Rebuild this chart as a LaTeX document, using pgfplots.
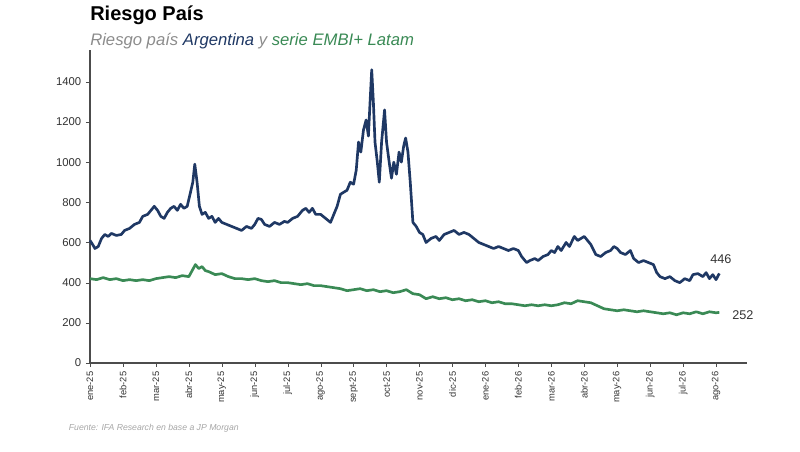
\documentclass[border=0pt]{standalone}
\usepackage{pgfplots}
\pgfplotsset{compat=1.18}
\usepackage{fontspec}
\setmainfont{Liberation Sans}
\definecolor{arg}{HTML}{1F3864}
\definecolor{emb}{HTML}{3A8A55}
\begin{document}
\begin{tikzpicture}
\useasboundingbox (-67.5pt,-66.75pt) rectangle (532.5pt,272.25pt);
\begin{axis}[scale only axis, width=493pt, height=235pt,
  xmin=0, xmax=19.95, ymin=0, ymax=1560,
  axis x line=bottom, axis y line=left, axis line style={-, black!70, line width=0.8pt},
  ytick={0,200,...,1400}, xtick={0,...,19},
  xticklabels={ene-25,feb-25,mar-25,abr-25,may-25,jun-25,jul-25,ago-25,sept-25,oct-25,nov-25,dic-25,ene-26,feb-26,mar-26,abr-26,may-26,jun-26,jul-26,ago-26},
  x tick label style={rotate=90, anchor=east, font=\fontsize{7}{8}\selectfont, black!80},
  y tick label style={font=\fontsize{8.5}{9}\selectfont, black!80},
  /pgf/number format/assume math mode=true, /pgf/number format/1000 sep={},
  tick style={black!70}, tick align=outside, major tick length=3pt,
  clip=false]
\addplot[arg, line width=2pt, line join=round] coordinates {
(0,610)(0.08,590)(0.15,570)(0.25,580)(0.35,620)(0.45,640)(0.55,630)(0.65,645)(0.8,635)(0.95,640)(1.05,660)(1.2,670)(1.35,690)(1.5,700)(1.6,730)(1.75,740)(1.85,760)(1.95,780)(2.05,760)(2.15,730)(2.25,720)(2.35,750)(2.45,770)(2.55,780)(2.65,760)(2.75,790)(2.85,770)(2.95,780)(3.05,850)(3.12,900)(3.18,990)(3.25,900)(3.32,780)(3.4,740)(3.5,750)(3.6,720)(3.7,730)(3.8,700)(3.9,720)(4.0,700)(4.15,690)(4.3,680)(4.45,670)(4.6,660)(4.75,680)(4.9,670)(5.0,690)(5.1,720)(5.2,715)(5.3,690)(5.45,680)(5.6,700)(5.75,690)(5.9,705)(6.0,700)(6.15,720)(6.3,730)(6.45,760)(6.55,770)(6.65,750)(6.75,770)(6.85,740)(7.0,740)(7.15,720)(7.3,700)(7.4,740)(7.5,780)(7.6,840)(7.7,850)(7.8,860)(7.9,900)(8.0,890)(8.08,960)(8.15,1100)(8.22,1050)(8.3,1160)(8.38,1210)(8.45,1130)(8.5,1300)(8.55,1460)(8.6,1300)(8.65,1100)(8.72,1000)(8.78,900)(8.85,1100)(8.94,1260)(9.0,1100)(9.08,1000)(9.15,920)(9.22,1000)(9.3,940)(9.38,1050)(9.45,1000)(9.52,1080)(9.58,1120)(9.65,1050)(9.72,900)(9.8,700)(9.9,680)(10.0,650)(10.1,640)(10.2,600)(10.35,620)(10.5,630)(10.6,610)(10.75,640)(10.9,650)(11.05,660)(11.2,640)(11.35,650)(11.5,640)(11.65,620)(11.8,600)(11.95,590)(12.1,580)(12.25,570)(12.4,580)(12.55,570)(12.7,560)(12.85,570)(13.0,560)(13.1,530)(13.25,500)(13.35,510)(13.5,520)(13.6,510)(13.75,530)(13.9,540)(14.0,560)(14.1,550)(14.2,580)(14.3,560)(14.45,600)(14.55,580)(14.7,630)(14.8,610)(14.9,620)(15.0,630)(15.1,610)(15.2,590)(15.35,540)(15.5,530)(15.65,550)(15.8,560)(15.9,580)(16.0,570)(16.1,550)(16.25,540)(16.4,560)(16.5,520)(16.65,500)(16.8,510)(16.95,500)(17.1,490)(17.2,450)(17.3,430)(17.45,420)(17.6,430)(17.75,410)(17.9,400)(18.05,420)(18.2,410)(18.3,440)(18.45,445)(18.6,430)(18.7,450)(18.8,420)(18.9,440)(19.0,415)(19.1,446)};
\addplot[emb, line width=2pt, line join=round] coordinates {
(0,420)(0.2,415)(0.4,425)(0.6,415)(0.8,420)(1.0,410)(1.2,415)(1.4,410)(1.6,415)(1.8,410)(2.0,420)(2.2,425)(2.4,430)(2.6,425)(2.8,435)(3.0,430)(3.1,460)(3.2,490)(3.3,470)(3.4,480)(3.5,460)(3.6,455)(3.8,440)(4.0,445)(4.2,430)(4.4,420)(4.6,420)(4.8,415)(5.0,420)(5.2,410)(5.4,405)(5.6,410)(5.8,400)(6.0,400)(6.2,395)(6.4,390)(6.6,395)(6.8,385)(7.0,385)(7.2,380)(7.4,375)(7.6,370)(7.8,360)(8.0,365)(8.2,370)(8.4,360)(8.6,365)(8.8,355)(9.0,360)(9.2,350)(9.4,355)(9.6,365)(9.8,345)(10.0,340)(10.2,320)(10.4,330)(10.6,320)(10.8,325)(11.0,315)(11.2,320)(11.4,310)(11.6,315)(11.8,305)(12.0,310)(12.2,300)(12.4,305)(12.6,295)(12.8,295)(13.0,290)(13.2,285)(13.4,290)(13.6,285)(13.8,290)(14.0,285)(14.2,290)(14.4,300)(14.6,295)(14.8,310)(15.0,305)(15.2,300)(15.4,285)(15.6,270)(15.8,265)(16.0,260)(16.2,265)(16.4,260)(16.6,255)(16.8,260)(17.0,255)(17.2,250)(17.4,245)(17.6,250)(17.8,240)(18.0,250)(18.2,245)(18.4,255)(18.6,245)(18.8,255)(19.0,250)(19.1,252)};
\node[anchor=south, font=\fontsize{9.5}{10}\selectfont, black!80] at (axis cs:19.15,470) {446};
\node[anchor=west, font=\fontsize{9.5}{10}\selectfont, black!80] at (axis cs:19.35,240) {252};
\end{axis}
\node[anchor=base west, font=\fontsize{15}{16}\selectfont\bfseries, inner xsep=0pt] at (0pt,257pt) {Riesgo País};
\node[anchor=base west, font=\fontsize{12.5}{14}\selectfont\itshape, inner xsep=0pt] at (0pt,238pt) {\textcolor{black!45}{Riesgo país} \textcolor{arg}{Argentina} \textcolor{black!45}{y} \textcolor{emb}{serie EMBI+ Latam}};
\node[anchor=base west, font=\fontsize{6.5}{7}\selectfont\itshape, black!35, inner xsep=0pt] at (-16pt,-51pt) {Fuente: IFA Research en base a JP Morgan};
\end{tikzpicture}
\end{document}
